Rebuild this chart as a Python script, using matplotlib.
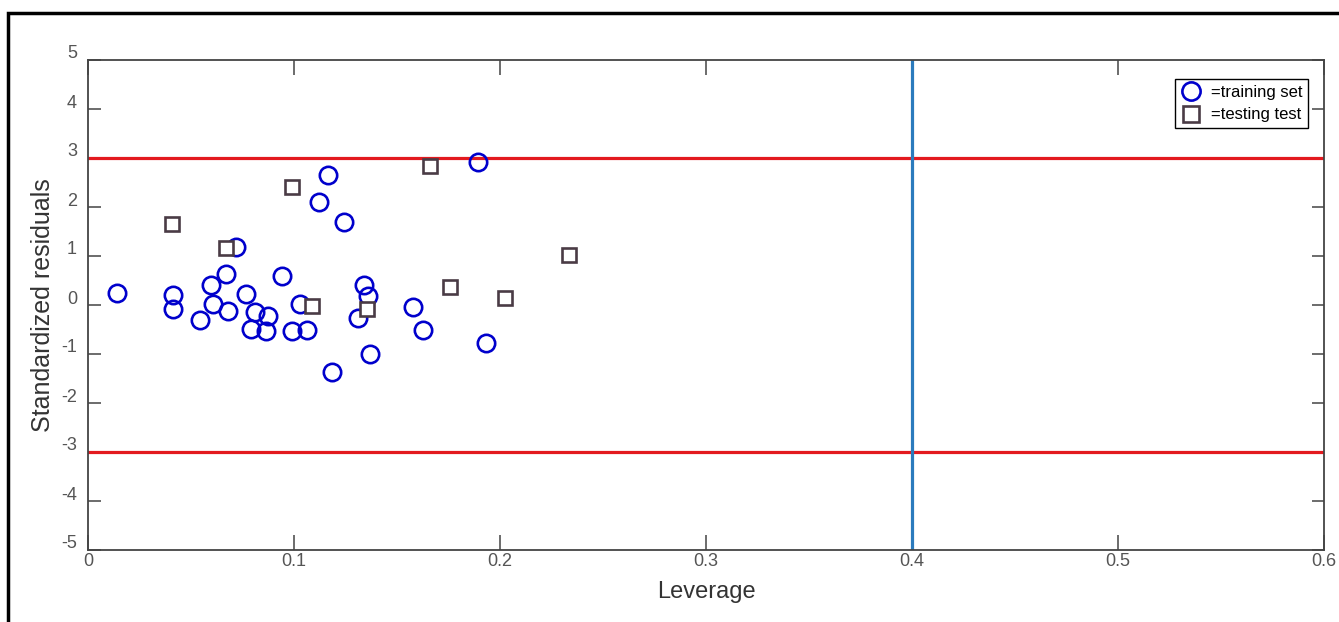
import matplotlib
matplotlib.use("Agg")
import matplotlib.pyplot as plt
from matplotlib.patches import Rectangle
from matplotlib.transforms import ScaledTranslation

# ---- data ----
train_leverage = [0.0139, 0.0414, 0.0414, 0.0544, 0.0597, 0.0605, 0.0668, 0.0678,
                  0.0718, 0.0765, 0.0811, 0.0790, 0.0875, 0.0863, 0.0940, 0.0992,
                  0.1029, 0.1065, 0.1121, 0.1167, 0.1245, 0.1183, 0.1312, 0.1340,
                  0.1361, 0.1369, 0.1579, 0.1625, 0.1891, 0.1930]
train_resid = [0.24, 0.20, -0.09, -0.31, 0.41, 0.03, 0.63, -0.12,
               1.19, 0.22, -0.14, -0.48, -0.22, -0.54, 0.60, -0.53,
               0.03, -0.51, 2.11, 2.65, 1.69, -1.36, -0.26, 0.41,
               0.19, -1.00, -0.05, -0.51, 2.91, -0.78]
test_leverage = [0.0406, 0.0668, 0.0989, 0.1089, 0.1356, 0.1660, 0.1757, 0.2023, 0.2335]
test_resid = [1.65, 1.17, 2.41, -0.02, -0.09, 2.84, 0.36, 0.15, 1.03]

resid_limits = [-3, 3]
leverage_warning = 0.4
x_ticks = [0, 0.1, 0.2, 0.3, 0.4, 0.5, 0.6]
x_tick_labels = ["0", "0.1", "0.2", "0.3", "0.4", "0.5", "0.6"]
y_ticks = [-5, -4, -3, -2, -1, 0, 1, 2, 3, 4, 5]
y_tick_labels = ["-5", "-4", "-3", "-2", "-1", "0", "1", "2", "3", "4", "5"]
labels = ["=training set", "=testing test"]

W, H, DPI = 1339, 622, 100
fig = plt.figure(figsize=(W / DPI, H / DPI), dpi=DPI)
fig.patch.set_facecolor("white")

narrow = ["Liberation Sans Narrow", "Liberation Sans", "DejaVu Sans"]
regular = ["Liberation Sans", "DejaVu Sans"]

left, right, top, bottom = 88, 1324, 60, 550
ax = fig.add_axes([left / W, 1 - bottom / H, (right - left) / W, (bottom - top) / H])

# reference lines
for yv in resid_limits:
    ax.axhline(yv, color="#e31a1f", lw=2.3, zorder=2)
ax.axvline(leverage_warning, color="#2b7bbd", lw=2.3, zorder=2)

# data
ax.plot(train_leverage, train_resid, linestyle="none", marker="o", markersize=12.5,
        markerfacecolor="none", markeredgecolor="#0000cc", markeredgewidth=1.9,
        label=labels[0], zorder=3)
ax.plot(test_leverage, test_resid, linestyle="none", marker="s", markersize=10.5,
        markerfacecolor="white", markeredgecolor="#4a3b45", markeredgewidth=1.9,
        label=labels[1], zorder=3)

ax.set_xlim(0, 0.6)
ax.set_ylim(-5, 5)
ax.set_xticks(x_ticks)
ax.set_xticklabels(x_tick_labels)
ax.set_yticks(y_ticks)
ax.set_yticklabels(y_tick_labels)

for sp in ax.spines.values():
    sp.set_color("#444444")
    sp.set_linewidth(1.3)

ax.tick_params(axis="x", direction="in", length=11, width=1.1, color="#444444",
               top=True, pad=2, labelsize=13, labelcolor="#555555")
ax.tick_params(axis="y", direction="in", length=9, width=1.1, color="#444444",
               right=True, pad=8, labelsize=13, labelcolor="#555555")
for lab in ax.get_xticklabels() + ax.get_yticklabels():
    lab.set_family(narrow)
# MATLAB-style: y tick labels sit slightly above their ticks
off = ScaledTranslation(0, 8 / DPI, fig.dpi_scale_trans)
for lab in ax.get_yticklabels():
    lab.set_transform(lab.get_transform() + off)

ax.set_xlabel("Leverage", fontsize=17, family=narrow, color="#333333", labelpad=8)
ax.set_ylabel("Standardized residuals", fontsize=18, family=regular, color="#333333",
              labelpad=4)

leg = ax.legend(loc="upper right", bbox_to_anchor=((1308 - left) / (right - left),
                (bottom - 79) / (bottom - top)),
                frameon=True, fancybox=False, shadow=False, framealpha=1,
                edgecolor="black", prop={"family": narrow, "size": 12},
                handlelength=1.3, handletextpad=0.5, labelspacing=0.45,
                borderpad=0.35, borderaxespad=0, markerscale=1.05)
leg.get_frame().set_linewidth(1.0)
leg._legend_box.align = "left"

# outer border of the figure
fig.patches.append(Rectangle((8 / W, -0.2), 2.0, 1 - 13 / H + 0.2, transform=fig.transFigure,
                             fill=False, edgecolor="black", lw=2.5, clip_on=False))

fig.savefig("out.png", dpi=DPI)
